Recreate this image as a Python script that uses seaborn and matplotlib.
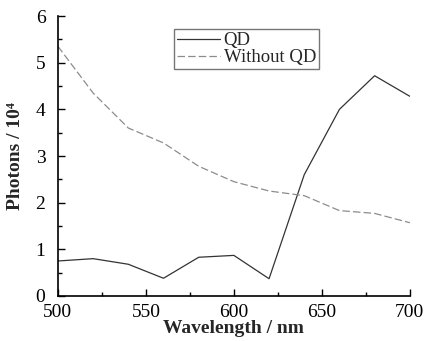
import pandas as pd
import matplotlib.pyplot as plt
import seaborn as sns
from matplotlib.ticker import MultipleLocator

# Values
wavelength = [500, 520, 540, 560, 580, 600, 620, 640, 660, 680, 700]
qd = [0.75, 0.80, 0.68, 0.38, 0.83, 0.87, 0.37, 2.60, 4.00, 4.72, 4.28]
without_qd = [5.35, 4.35, 3.60, 3.28, 2.78, 2.45, 2.25, 2.15, 1.83, 1.77, 1.57]
series_names = ['QD', 'Without QD']

df = pd.DataFrame({
    'Wavelength': wavelength * 2,
    'Photons': qd + without_qd,
    'Series': [series_names[0]] * len(wavelength) + [series_names[1]] * len(wavelength),
})

sns.set_style('ticks')
plt.rcParams['font.family'] = ['Liberation Serif', 'DejaVu Serif']

fig = plt.figure(figsize=(4.26, 3.41), dpi=100)
ax = fig.add_axes([0.136, 0.132, 0.826, 0.821])

palette = {'QD': '#333333', 'Without QD': '#8c8c8c'}
dashes = {'QD': '', 'Without QD': (6, 2.5)}
sns.lineplot(data=df, x='Wavelength', y='Photons', hue='Series', style='Series',
             palette=palette, dashes=dashes, linewidth=0.9, ax=ax)

ax.set_xlim(500, 700)
ax.set_ylim(0, 6)
ax.xaxis.set_major_locator(MultipleLocator(50))
ax.xaxis.set_minor_locator(MultipleLocator(25))
ax.yaxis.set_major_locator(MultipleLocator(1))
ax.yaxis.set_minor_locator(MultipleLocator(0.5))
ax.tick_params(which='both', direction='in', labelsize=14, width=1, colors='black')
ax.tick_params(which='major', length=5)
ax.tick_params(which='minor', length=3)
ax.tick_params(axis='x', which='major', pad=6)
ax.tick_params(axis='y', which='major', pad=9)
sns.despine(ax=ax)
for s in ['left', 'bottom']:
    ax.spines[s].set_linewidth(1.2)
    ax.spines[s].set_color('black')

ax.set_xlabel('Wavelength / nm', fontsize=14, fontweight='bold', labelpad=-1)
ax.set_ylabel('Photons / 10\u2074', fontsize=14, fontweight='bold', labelpad=8)

leg = ax.legend(loc='upper left', bbox_to_anchor=(0.33, 0.953), fontsize=13.5,
                frameon=True, fancybox=False, handlelength=2.3, borderpad=0.15,
                labelspacing=0.0, handletextpad=0.2, borderaxespad=0)
leg.get_frame().set_edgecolor('#555555')
leg.get_frame().set_linewidth(1.0)

fig.savefig('out.png', dpi=100)
